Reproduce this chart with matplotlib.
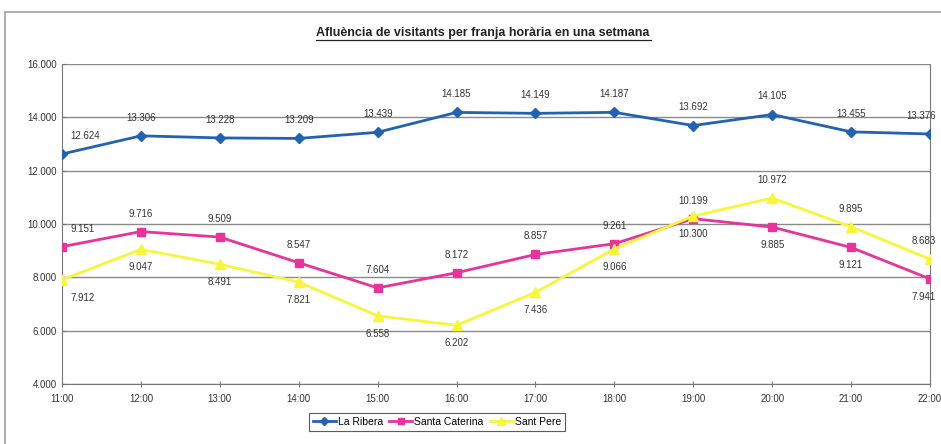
import matplotlib
matplotlib.use('Agg')
import matplotlib.pyplot as plt
from matplotlib.patches import Rectangle

plt.rcParams['font.family'] = ['Liberation Sans', 'DejaVu Sans']

# dades
hores = ['11:00', '12:00', '13:00', '14:00', '15:00', '16:00',
         '17:00', '18:00', '19:00', '20:00', '21:00', '22:00']
la_ribera = [12624, 13306, 13228, 13209, 13439, 14185, 14149, 14187, 13692, 14105, 13455, 13376]
santa_caterina = [9151, 9716, 9509, 8547, 7604, 8172, 8857, 9261, 10199, 9885, 9121, 7941]
sant_pere = [7912, 9047, 8491, 7821, 6558, 6202, 7436, 9066, 10300, 10972, 9895, 8683]
y_ticks = [4000, 6000, 8000, 10000, 12000, 14000, 16000]

# posicio de les etiquetes: 1 = a dalt, -1 = a baix
pos_ribera = [1] * 12
pos_caterina = [1, 1, 1, 1, 1, 1, 1, 1, 1, -1, -1, -1]
pos_pere = [-1, -1, -1, -1, -1, -1, -1, -1, -1, 1, 1, 1]


def fmt(v):
    return f'{v:,}'.replace(',', '.')


fig = plt.figure(figsize=(9.41, 4.44), dpi=100)
fig.patches.append(Rectangle((5 / 941, -0.05), 1.0, 1 - 12 / 444 + 0.05,
                             transform=fig.transFigure, fill=False,
                             edgecolor='#a0a0a0', linewidth=1.2))

ax = fig.add_axes([62 / 941, 1 - 384 / 444, (930 - 62) / 941, 320 / 444])
x = list(range(len(hores)))

series = [
    ('La Ribera', la_ribera, '#2262b0', 'D', 5, pos_ribera),
    ('Santa Caterina', santa_caterina, '#e8339a', 's', 6, pos_caterina),
    ('Sant Pere', sant_pere, '#f7f53c', '^', 7, pos_pere),
]

for name, vals, color, mk, ms, pos in series:
    ax.plot(x, vals, color=color, marker=mk, markersize=ms, linewidth=2,
            label=name, zorder=3)
    for i, (v, p) in enumerate(zip(vals, pos)):
        ha = 'center'
        dx = 0
        if i == 0:
            dx = 6
            ha = 'left'
        elif i == len(vals) - 1:
            dx = 4
            ha = 'right'
        ax.annotate(fmt(v), (i, v), xytext=(dx, 13 * p), textcoords='offset points',
                    ha=ha, va='center', fontsize=7, color='#333333', zorder=4)

ax.set_xlim(0, len(hores) - 1)
ax.set_ylim(4000, 16000)
ax.set_yticks(y_ticks)
ax.set_yticklabels([fmt(v) for v in y_ticks], fontsize=7, color='#333333')
ax.set_xticks(x)
ax.set_xticklabels(hores, fontsize=7, color='#333333')
ax.tick_params(axis='both', length=3, color='#777777', direction='in')
ax.tick_params(axis='x', direction='inout', length=5, pad=5)
ax.grid(axis='y', color='#8a8a8a', linewidth=1)
ax.set_axisbelow(True)
ax.spines['top'].set_visible(False)
for side in ['left', 'right', 'bottom']:
    ax.spines[side].set_color('#777777')

fig.text(483 / 941, 1 - 33 / 444,
         'Afluència de visitants per franja horària en una setmana',
         ha='center', va='center', fontsize=9, fontweight='bold', color='#222222')
fig.add_artist(plt.Line2D([316 / 941, 651 / 941], [1 - 40 / 444, 1 - 40 / 444],
                          color='#222222', linewidth=0.9))

leg = fig.legend(loc='center', bbox_to_anchor=(437 / 941, 1 - 422 / 444), ncol=3,
                 fontsize=7.5, frameon=True, fancybox=False, edgecolor='#333333',
                 handlelength=2.2, columnspacing=0.6, handletextpad=0.2,
                 borderpad=0.4, markerscale=0.8)
leg.get_frame().set_linewidth(0.8)

fig.savefig('out.png', dpi=100)
